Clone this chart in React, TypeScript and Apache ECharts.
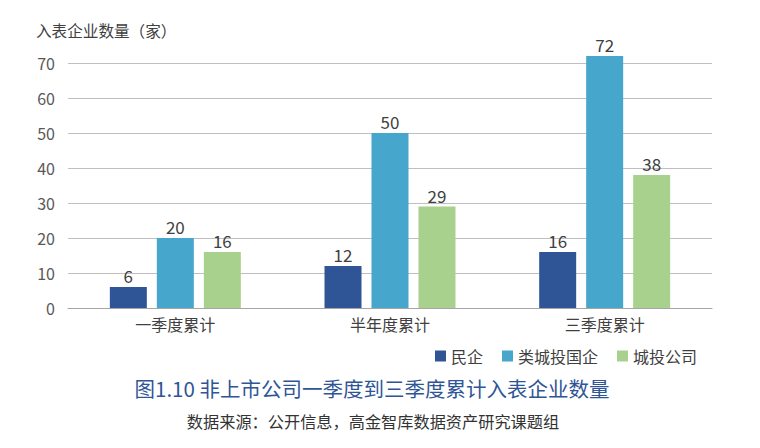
import React, { useEffect, useRef } from "react";
import * as echarts from "echarts";

const categories = ["一季度累计", "半年度累计", "三季度累计"];
const minqi = [6, 12, 16];
const leiChengtou = [20, 50, 72];
const chengtou = [16, 29, 38];
const seriesNames = ["民企", "类城投国企", "城投公司"];

const FONT = "'Noto Sans CJK SC', 'Noto Sans', sans-serif";

export default function App() {
  const ref = useRef<HTMLDivElement>(null);
  useEffect(() => {
    if (!ref.current) return;
    const chart = echarts.init(ref.current, undefined, { renderer: "svg" });
    const label = {
      show: true,
      position: "top" as const,
      distance: 3,
      color: "#404040",
      fontSize: 17,
      fontFamily: FONT,
    };
    const common = {
      type: "bar" as const,
      barWidth: 37,
      barGap: "27%",
      clip: false,
      label,
    };
    chart.setOption({
      animation: false,
      textStyle: { fontFamily: FONT },
      grid: { left: 68, right: 48, top: 63, bottom: 140 },
      legend: {
        left: 430,
        top: 343,
        itemWidth: 11,
        itemHeight: 11,
        itemGap: 19,
        icon: "rect",
        textStyle: { fontSize: 16, color: "#404040", fontFamily: FONT },
        data: seriesNames,
      },
      xAxis: {
        type: "category",
        data: categories,
        axisTick: { show: false },
        axisLine: { lineStyle: { color: "#a6a6a6", width: 1 } },
        axisLabel: { fontSize: 16, color: "#404040", margin: 8, fontFamily: FONT },
      },
      yAxis: {
        type: "value",
        min: 0,
        max: 70,
        interval: 10,
        axisLabel: { fontSize: 16, color: "#595959", margin: 13, fontFamily: FONT },
        splitLine: { lineStyle: { color: "#bfbfbf", width: 1 } },
        axisLine: { show: false },
        axisTick: { show: false },
      },
      series: [
        { ...common, name: seriesNames[0], data: minqi, itemStyle: { color: "#2F5597" } },
        { ...common, name: seriesNames[1], data: leiChengtou, itemStyle: { color: "#47A6CB" } },
        { ...common, name: seriesNames[2], data: chengtou, itemStyle: { color: "#A9D18E" } },
      ],
      graphic: [
        {
          type: "text",
          left: 36,
          top: 22,
          style: { text: "入表企业数量（家）", fontSize: 15.6, fill: "#404040", fontFamily: FONT },
        },
        {
          type: "text",
          x: 372,
          y: 388,
          style: {
            text: "图1.10 非上市公司一季度到三季度累计入表企业数量",
            fontSize: 20.5,
            fill: "#2F5597",
            fontFamily: FONT,
            align: "center",
            verticalAlign: "middle",
          },
        },
        {
          type: "text",
          x: 373,
          y: 421,
          style: {
            text: "数据来源：公开信息，高金智库数据资产研究课题组",
            fontSize: 16.2,
            fill: "#333333",
            fontFamily: FONT,
            align: "center",
            verticalAlign: "middle",
          },
        },
      ],
    });
    return () => chart.dispose();
  }, []);
  return (
    <div
      ref={ref}
      style={{ position: "absolute", left: 0, top: 0, width: 760, height: 448 }}
    />
  );
}
